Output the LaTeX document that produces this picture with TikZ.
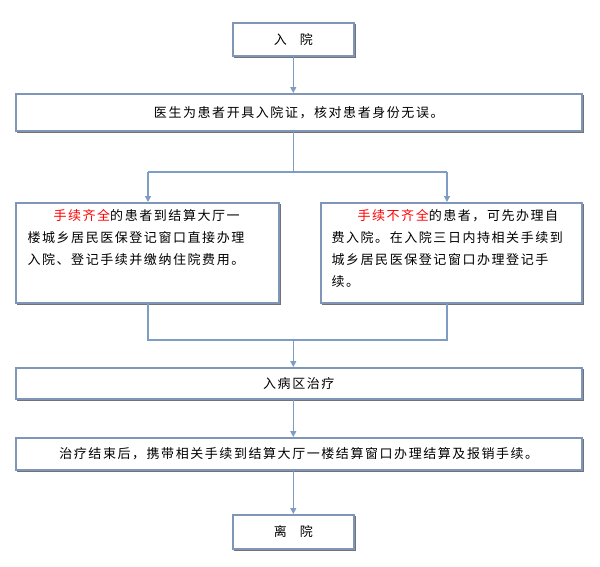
\documentclass[tikz,border=0pt]{standalone}
\usepackage{fontspec}
\newfontfamily\cjk[LetterSpace=12]{Noto Sans CJK SC}
\usetikzlibrary{arrows.meta}
\definecolor{bd}{HTML}{7F96B8}
\definecolor{ar}{HTML}{7E9CC4}
\begin{document}
\begin{tikzpicture}[x=1pt,y=-1pt,
 box/.style={draw=bd,line width=1.6pt,fill=white,inner sep=0pt},
 tx/.style={font=\cjk\fontsize{13}{22}\selectfont},
 sh/.style={fill=black!55},
 ln/.style={draw=ar,line width=1.3pt},
 arr/.style={ln,-{Triangle[length=6pt,width=6pt]}}]
\useasboundingbox (0,0) rectangle (600,566);
\fill[white] (0,0) rectangle (600,566);
\def\bx#1#2#3#4#5{\fill[sh] (#2+2,#3+2) rectangle (#4+3,#5+3);
 \node[box,minimum width=#4-#2,minimum height=#5-#3,anchor=north west] (#1) at (#2,#3) {};}
\bx{a}{232}{22}{353}{55}
\node[tx] at (a) {入\quad 院};
\bx{b}{15}{93}{581}{130}
\node[tx] at (b) {医生为患者开具入院证，核对患者身份无误。};
\bx{l}{15}{202}{278}{302}
\node[tx,align=left,anchor=north west] at (24,206) {\hspace{2em}\textcolor{red}{手续齐全}的患者到结算大厅一\\楼城乡居民医保登记窗口直接办理\\入院、登记手续并缴纳住院费用。};
\bx{r}{320}{202}{581}{302}
\node[tx,align=left,anchor=north west] at (328,206) {\hspace{2em}\textcolor{red}{手续不齐全}的患者，可先办理自\\费入院。在入院三日内持相关手续到\\城乡居民医保登记窗口办理登记手\\续。};
\bx{c}{15}{367}{581}{398}
\node[tx] at (c) {入病区治疗};
\bx{d}{15}{437}{581}{469}
\node[tx] at (d) {治疗结束后，携带相关手续到结算大厅一楼结算窗口办理结算及报销手续。};
\bx{e}{232}{514}{353}{548}
\node[tx] at (e) {离\quad 院};
\coordinate (s1) at (a.south |- 0,172);
\coordinate (s2) at (a.south |- 0,340);
\draw[arr] (a.south) -- (a.south |- b.north);
\draw[ln] (a.south |- b.south) -- (s1);
\draw[arr] (148,172) -- (148,202);
\draw[arr] (447,172) -- (447,202);
\draw[ln] (148,172) -- (447,172);
\draw[ln] (148,304) -- (148,340) -- (447,340) -- (447,304);
\draw[arr] (s2) -- (s2 |- c.north);
\draw[arr] (s2 |- c.south) -- (s2 |- d.north);
\draw[arr] (s2 |- d.south) -- (e.north);
\end{tikzpicture}
\end{document}
